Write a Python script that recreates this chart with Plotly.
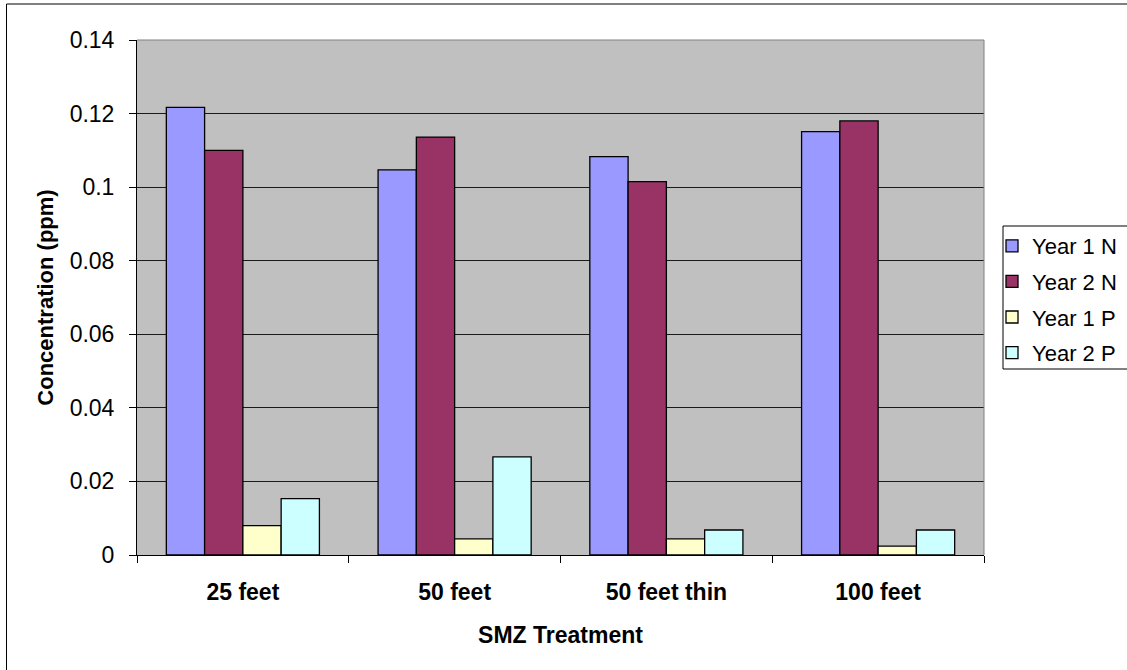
import plotly.graph_objects as go

categories = ["25 feet", "50 feet", "50 feet thin", "100 feet"]
year1_n = [0.1217, 0.1047, 0.1083, 0.1151]
year2_n = [0.1100, 0.1136, 0.1015, 0.1180]
year1_p = [0.0080, 0.0044, 0.0044, 0.0024]
year2_p = [0.0153, 0.0267, 0.0068, 0.0068]
series_names = ["Year 1 N", "Year 2 N", "Year 1 P", "Year 2 P"]
series_colors = ["#9999FF", "#993366", "#FFFFCC", "#CCFFFF"]
y_ticks = [0, 0.02, 0.04, 0.06, 0.08, 0.1, 0.12, 0.14]

FONT = "Liberation Sans, Arial, sans-serif"
W, H = 1127, 670
L, R, T, B = 137, 143, 40, 115
pw, ph = W - L - R, H - T - B

def px_x(p):
    return (p - L) / pw

def px_y(p):
    return (H - B - p) / ph

fig = go.Figure()
for i, (name, vals, col) in enumerate(zip(series_names, [year1_n, year2_n, year1_p, year2_p], series_colors)):
    fig.add_trace(go.Bar(
        x=categories, y=vals, name=name,
        marker=dict(color=col, line=dict(color="#000000", width=1.3)),
        legendgroup=f"g{i}",
    ))

shapes = [
    # outer chart border
    dict(type="rect", xref="paper", yref="paper", x0=px_x(6.5), x1=px_x(1160), y0=px_y(4), y1=px_y(700),
         line=dict(color="#000000", width=1), layer="above"),
    # plot area top/right border
    dict(type="line", xref="paper", yref="paper", x0=0, x1=1, y0=1, y1=1, line=dict(color="#808080", width=1)),
    dict(type="line", xref="paper", yref="paper", x0=1, x1=1, y0=0, y1=1, line=dict(color="#808080", width=1)),
    # legend border
    dict(type="rect", xref="paper", yref="paper", x0=px_x(1003), x1=px_x(1160), y0=px_y(369), y1=px_y(226),
         line=dict(color="#000000", width=1)),
]

fig.update_layout(
    width=W, height=H,
    margin=dict(l=L, r=R, t=T, b=B, autoexpand=False),
    paper_bgcolor="white", plot_bgcolor="#C0C0C0",
    barmode="group", bargap=0.277, bargroupgap=0,
    font=dict(family=FONT, size=22, color="#000000"),
    shapes=shapes,
    showlegend=True,
    legend=dict(
        xref="container", yref="container",
        x=992 / W, y=1 - 225 / H, xanchor="left", yanchor="top",
        font=dict(family=FONT, size=22, color="#000000"),
        bgcolor="rgba(0,0,0,0)", borderwidth=0,
        traceorder="grouped", tracegroupgap=4,
    ),
    xaxis=dict(
        type="category", tickson="boundaries",
        ticks="outside", ticklen=7, tickcolor="#000000", tickwidth=1,
        showline=True, linecolor="#000000", linewidth=1,
        showgrid=False,
        tickfont=dict(family=FONT, size=23, color="#000000", weight="bold"),
        ticklabelstandoff=16,
        title=dict(text="<b>SMZ Treatment</b>", font=dict(family=FONT, size=23, color="#000000"), standoff=23),
    ),
    yaxis=dict(
        range=[0, 0.14], tickmode="array", tickvals=y_ticks,
        ticktext=[("%g" % v) for v in y_ticks],
        ticks="outside", ticklen=7, tickcolor="#000000", tickwidth=1,
        showline=True, linecolor="#000000", linewidth=1,
        showgrid=True, gridcolor="#1a1a1a", gridwidth=1,
        zeroline=False,
        tickfont=dict(family=FONT, size=23, color="#000000"),
        ticklabelstandoff=10,
        title=dict(text="<b>Concentration (ppm)</b>", font=dict(family=FONT, size=22, color="#000000"), standoff=9),
    ),
)

fig.write_html(
    "out.html",
    config={"displayModeBar": False},
    post_script="document.body.style.margin='0px';document.body.style.overflow='hidden';",
)
